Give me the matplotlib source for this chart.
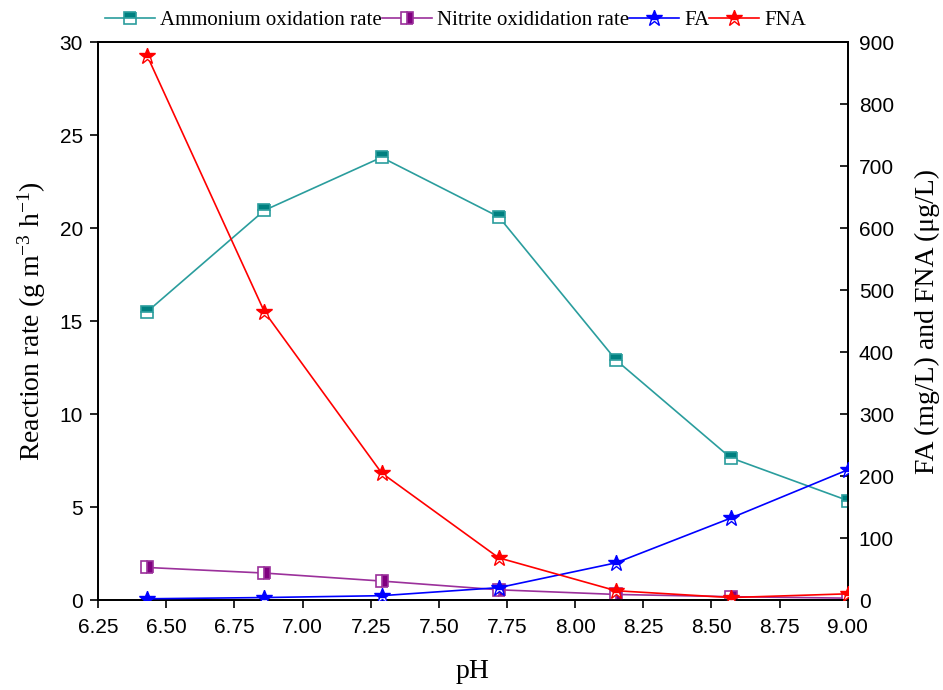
import numpy as np
import matplotlib
matplotlib.use('Agg')
import matplotlib.pyplot as plt
from matplotlib.ticker import MultipleLocator

# Data
ph = [6.43, 6.86, 7.29, 7.72, 8.15, 8.57, 9.00]
ammonium_rate = [15.5, 20.95, 23.8, 20.6, 12.9, 7.65, 5.35]
nitrite_rate = [1.75, 1.45, 1.02, 0.55, 0.30, 0.18, 0.10]
fa = [2, 4, 7, 20, 60, 132, 210]
fna = [878, 465, 205, 68, 15, 4, 10]

SERIF = ['Liberation Serif', 'DejaVu Serif']
SANS = ['Liberation Sans', 'DejaVu Sans']

plt.rcParams.update({
    'mathtext.fontset': 'custom',
    'mathtext.rm': 'Liberation Serif',
    'mathtext.it': 'Liberation Serif:italic',
    'mathtext.bf': 'Liberation Serif:bold',
})

fig = plt.figure(figsize=(9.43, 6.9), dpi=100)
ax = fig.add_axes([0.104, 0.1304, 0.795, 0.8087])
ax2 = ax.twinx()

h1, = ax.plot(ph, ammonium_rate, color='#2a9d9d', lw=1.2, marker='s', ms=9,
              fillstyle='top', markerfacecolor='#008080', markeredgecolor='#2a9d9d',
              markerfacecoloralt='white', mew=1.2, zorder=3,
              label='Ammonium oxidation rate')
h2, = ax.plot(ph, nitrite_rate, color='#9b309b', lw=1.2, marker='s', ms=9,
              fillstyle='right', markerfacecolor='#800080', markeredgecolor='#9b309b',
              markerfacecoloralt='white', mew=1.2, zorder=3,
              label='Nitrite oxididation rate')
h3, = ax2.plot(ph, fa, color='#0000ff', lw=1.2, marker='*', ms=12,
               fillstyle='top', markerfacecolor='#0000ff', markeredgecolor='#0000ff',
               markerfacecoloralt='white', mew=1.0, zorder=3, label='FA')
h4, = ax2.plot(ph, fna, color='#ff0000', lw=1.2, marker='*', ms=12,
               fillstyle='top', markerfacecolor='#ff0000', markeredgecolor='#ff0000',
               markerfacecoloralt='white', mew=1.0, zorder=3, label='FNA')

ax.set_xlim(6.25, 9.0)
ax.set_ylim(0, 30)
ax2.set_ylim(0, 900)
ax.xaxis.set_major_locator(MultipleLocator(0.25))
ax.yaxis.set_major_locator(MultipleLocator(5))
ax2.yaxis.set_major_locator(MultipleLocator(100))

ax.tick_params(axis='x', direction='out', length=6, width=1.2, pad=7, top=False)
ax.tick_params(axis='y', direction='out', length=6, width=1.2, pad=5, right=False)
ax2.tick_params(axis='y', direction='in', length=6, width=1.2, pad=8)
for a in (ax, ax2):
    for s in a.spines.values():
        s.set_linewidth(1.3)
    for lab in a.get_xticklabels() + a.get_yticklabels():
        lab.set_family(SANS)
        lab.set_fontsize(15)
ax.set_xticklabels([f'{v:.2f}' for v in ax.get_xticks()], family=SANS, fontsize=15)

ax.set_xlabel('pH', family=SERIF, fontsize=20, labelpad=16)
ax.set_ylabel('Reaction rate (g m$^{-3}$ h$^{-1}$)', family=SERIF, fontsize=20, labelpad=8)
ax2.set_ylabel('FA (mg/L) and FNA (\u03bcg/L)', family=SERIF, fontsize=20, labelpad=15)

fig.legend(handles=[h1, h2, h3, h4], loc='upper center', bbox_to_anchor=(0.483, 1.012),
           ncol=4, frameon=False, prop={'family': SERIF, 'size': 15},
           handlelength=2.4, handletextpad=0.25, columnspacing=0.0)

fig.savefig('out.png', dpi=100)
